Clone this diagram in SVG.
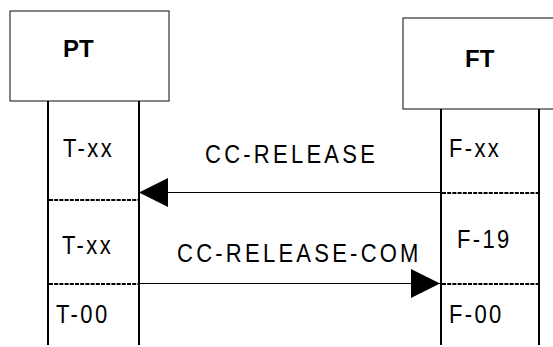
<svg xmlns="http://www.w3.org/2000/svg" width="553" height="347" viewBox="0 0 553 347">
<style>
.box{fill:#fff;stroke:#333;stroke-width:1.2}
.life{stroke:#000;stroke-width:2;fill:none}
.dot{stroke:#000;stroke-width:1.8;stroke-dasharray:4 1.2;fill:none}
.msg{stroke:#000;stroke-width:1;fill:none}
.title{font-family:"Liberation Sans",Arial,sans-serif;font-weight:bold;font-size:24px;fill:#000}
.state{font-family:"Liberation Sans",Arial,sans-serif;font-size:25px;letter-spacing:2.7px;fill:#000}
.lbl{font-family:"Liberation Sans",Arial,sans-serif;font-size:25px;letter-spacing:3.7px;fill:#000}
</style>
<defs>
<marker id="arr" markerUnits="userSpaceOnUse" markerWidth="29" markerHeight="29" refX="29" refY="14.5" orient="auto">
<path d="M0,0 L29,14.5 L0,29 z" fill="#000"/>
</marker>
</defs>
<rect width="553" height="347" fill="#fff"/>
<g id="PT">
<rect class="box" x="10" y="11" width="159" height="90"/>
<text class="title" x="63" y="57">PT</text>
<line class="life" x1="48" y1="101" x2="48" y2="345"/>
<line class="life" x1="139" y1="101" x2="139" y2="345"/>
<line class="dot" x1="49" y1="200" x2="138" y2="200"/>
<line class="dot" x1="49" y1="284" x2="138" y2="284"/>
<text class="state" transform="translate(63,157) scale(0.88,1)">T-xx</text>
<text class="state" transform="translate(62,254) scale(0.88,1)">T-xx</text>
<text class="state" transform="translate(56,323) scale(0.88,1)">T-00</text>
</g>
<g id="FT">
<rect class="box" x="403" y="18" width="155" height="91"/>
<text class="title" x="465" y="67">FT</text>
<line class="life" x1="441" y1="109" x2="441" y2="345"/>
<line class="life" x1="539" y1="109" x2="539" y2="345"/>
<line class="dot" x1="442" y1="193" x2="538" y2="193"/>
<line class="dot" x1="442" y1="284" x2="538" y2="284"/>
<text class="state" transform="translate(449,157) scale(0.88,1)">F-xx</text>
<text class="state" transform="translate(457,248) scale(0.88,1)">F-19</text>
<text class="state" transform="translate(449,323) scale(0.88,1)">F-00</text>
</g>
<g id="connectors">
<line class="msg" x1="440" y1="192.5" x2="139" y2="192.5" marker-end="url(#arr)"/>
<text class="lbl" transform="translate(205,163) scale(0.88,1)">CC-RELEASE</text>
<line class="msg" x1="140" y1="283.5" x2="440" y2="283.5" marker-end="url(#arr)"/>
<text class="lbl" transform="translate(177,262) scale(0.88,1)">CC-RELEASE-COM</text>
</g>
</svg>
